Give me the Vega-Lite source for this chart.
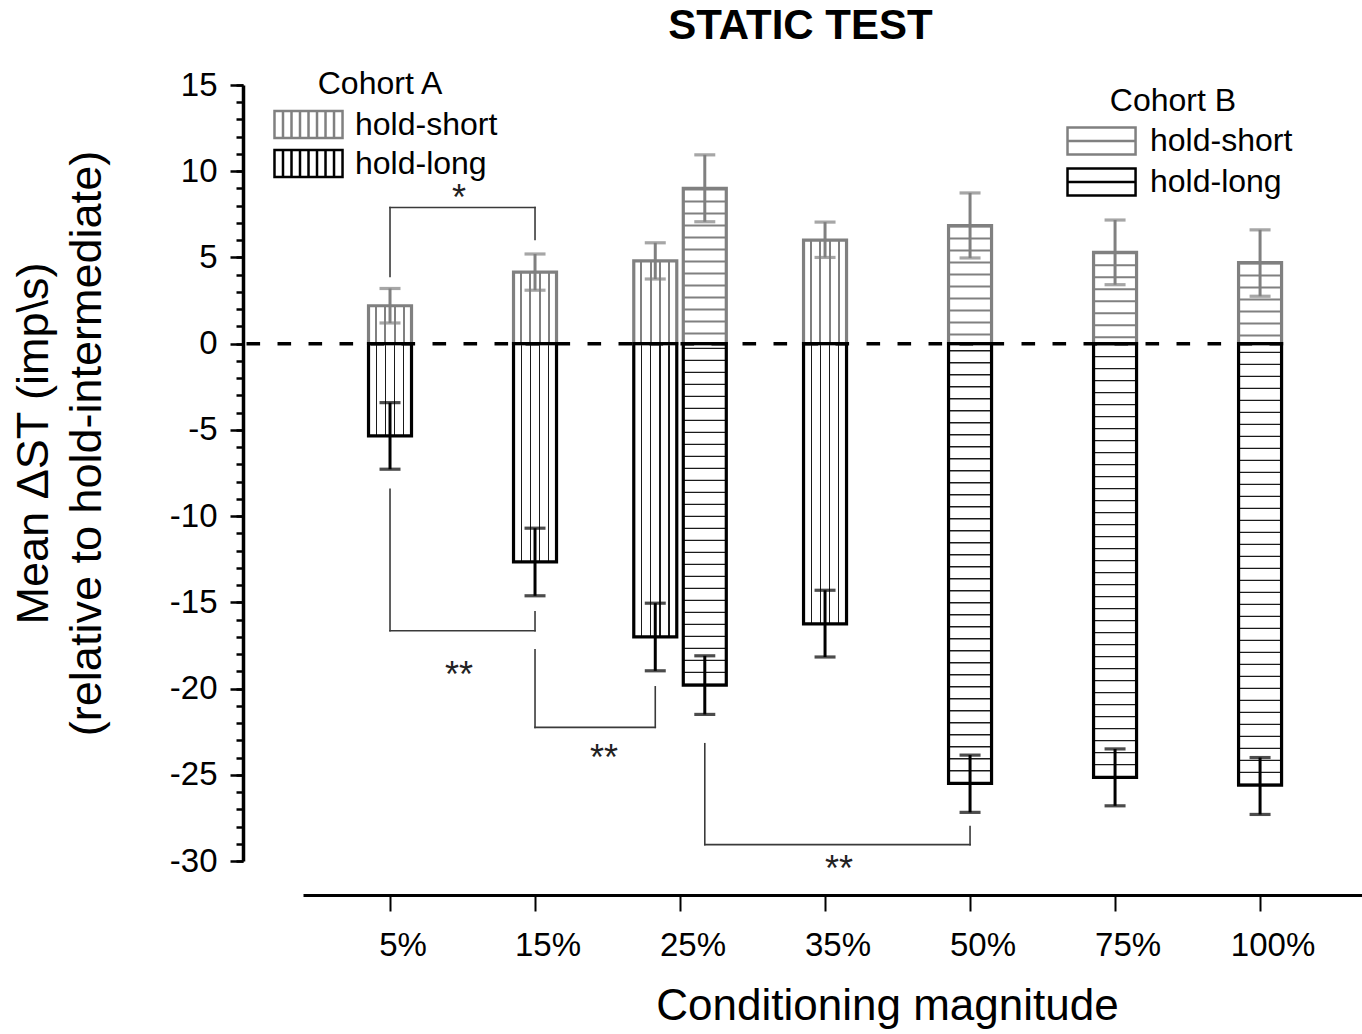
{
  "$schema": "https://vega.github.io/schema/vega-lite/v6.json",
  "width": 1059,
  "height": 776,
  "autosize": {"type": "none"},
  "padding": {"left": 303, "top": 85, "right": 0, "bottom": 173},
  "background": "white",
  "title": {"text": "STATIC TEST", "fontSize": 42, "fontWeight": "bold", "font": "Liberation Sans", "color": "black", "anchor": "middle", "frame": "group", "dx": -32, "offset": -12, "baseline": "alphabetic"},
  "config": {
    "font": "Liberation Sans",
    "view": {"stroke": null},
    "axis": {"grid": false, "domainColor": "black", "tickColor": "black", "labelColor": "black", "titleColor": "black", "labelFont": "Liberation Sans", "titleFont": "Liberation Sans", "titleFontWeight": "normal"},
    "legend": {"labelFont": "Liberation Sans", "titleFont": "Liberation Sans", "labelColor": "black", "titleColor": "black", "titleFontWeight": "normal", "labelFontSize": 32, "titleFontSize": 32, "labelLimit": 400, "padding": 0}
  },
  "datasets": {
    "bars": [
      {"magnitude": "5%", "cohort": "A", "hold": "hold-short", "value": 2.2, "lo": 1.2, "hi": 3.2},
      {"magnitude": "15%", "cohort": "A", "hold": "hold-short", "value": 4.15, "lo": 3.1, "hi": 5.2},
      {"magnitude": "25%", "cohort": "A", "hold": "hold-short", "value": 4.8, "lo": 3.75, "hi": 5.85},
      {"magnitude": "35%", "cohort": "A", "hold": "hold-short", "value": 6.0, "lo": 5.0, "hi": 7.05},
      {"magnitude": "5%", "cohort": "A", "hold": "hold-long", "value": -5.35, "lo": -7.28, "hi": -3.42},
      {"magnitude": "15%", "cohort": "A", "hold": "hold-long", "value": -12.65, "lo": -14.62, "hi": -10.7},
      {"magnitude": "25%", "cohort": "A", "hold": "hold-long", "value": -17.0, "lo": -18.97, "hi": -15.05},
      {"magnitude": "35%", "cohort": "A", "hold": "hold-long", "value": -16.25, "lo": -18.17, "hi": -14.3},
      {"magnitude": "25%", "cohort": "B", "hold": "hold-short", "value": 9.0, "lo": 7.07, "hi": 10.95},
      {"magnitude": "50%", "cohort": "B", "hold": "hold-short", "value": 6.85, "lo": 4.97, "hi": 8.74},
      {"magnitude": "75%", "cohort": "B", "hold": "hold-short", "value": 5.3, "lo": 3.42, "hi": 7.17},
      {"magnitude": "100%", "cohort": "B", "hold": "hold-short", "value": 4.7, "lo": 2.75, "hi": 6.6},
      {"magnitude": "25%", "cohort": "B", "hold": "hold-long", "value": -19.8, "lo": -21.5, "hi": -18.1},
      {"magnitude": "50%", "cohort": "B", "hold": "hold-long", "value": -25.5, "lo": -27.18, "hi": -23.86},
      {"magnitude": "75%", "cohort": "B", "hold": "hold-long", "value": -25.15, "lo": -26.8, "hi": -23.5},
      {"magnitude": "100%", "cohort": "B", "hold": "hold-long", "value": -25.6, "lo": -27.3, "hi": -24.0}
    ],
    "vseg": [
      {"magnitude": "5%", "cohort": "A", "y1": 7.9, "y2": 3.9},
      {"magnitude": "15%", "cohort": "A", "y1": 7.9, "y2": 6.05},
      {"magnitude": "5%", "cohort": "A", "y1": -8.45, "y2": -16.65},
      {"magnitude": "15%", "cohort": "A", "y1": -16.65, "y2": -15.55},
      {"magnitude": "15%", "cohort": "A", "y1": -17.75, "y2": -22.25},
      {"magnitude": "25%", "cohort": "A", "y1": -22.25, "y2": -19.9},
      {"magnitude": "25%", "cohort": "B", "y1": -23.2, "y2": -29.05},
      {"magnitude": "50%", "cohort": "B", "y1": -29.05, "y2": -28.0}
    ],
    "hseg": [
      {"from": "5%", "to": "15%", "y": 7.9},
      {"from": "5%", "to": "15%", "y": -16.65},
      {"from": "15%", "to": "25%", "y": -22.25},
      {"from": "25%", "to": "50%", "y": -29.05}
    ],
    "stars": [
      {"magnitude": "5%", "y": 7.75, "label": "*"},
      {"magnitude": "5%", "y": -19.9, "label": "**"},
      {"magnitude": "15%", "y": -24.7, "label": "**"},
      {"magnitude": "35%", "y": -31.15, "label": "**"}
    ]
  },
  "encoding": {
    "x": {
      "field": "magnitude", "type": "nominal",
      "scale": {"type": "band", "domain": ["5%", "15%", "25%", "35%", "50%", "75%", "100%"], "paddingInner": 0.317, "paddingOuter": 0.31, "align": 0.417},
      "axis": {"offset": 34, "domainWidth": 3, "tickSize": 16, "tickWidth": 2, "labelFontSize": 33, "labelPadding": 18, "labelOffset": 13, "labelAngle": 0, "title": "Conditioning magnitude", "titleFontSize": 44, "titlePadding": 22, "titleX": 584, "titleAnchor": "middle", "grid": false}
    }
  },
  "resolve": {"axis": {"y": "independent"}},
  "layer": [
    {
      "resolve": {"scale": {"stroke": "independent"}},
      "layer": [
        {
          "data": {"name": "bars"},
          "transform": [{"filter": "datum.cohort == 'A'"}],
          "layer": [
            {
              "transform": [{"filter": "datum.magnitude != '25%'"}],
              "layer": [
                {"mark": {"type": "bar", "width": 43},
                 "encoding": {
                   "y": {"field": "value", "type": "quantitative", "scale": {"domain": [-30, 15], "nice": false, "zero": false},
                         "axis": {"orient": "left", "offset": 60, "values": [-30, -25, -20, -15, -10, -5, 0, 5, 10, 15], "tickSize": 13, "tickWidth": 2.5, "domainWidth": 3.5, "labelFontSize": 33, "labelPadding": 13, "labelExpr": "'' + datum.value", "title": ["Mean ΔST (imp\\s)", "(relative to hold-intermediate)"], "titleFontSize": 45, "titleAngle": -90, "titleAlign": "center", "titleBaseline": "alphabetic", "titleX": -196, "titleY": 358, "titleLineHeight": 53, "grid": false}},
                   "fill": {"condition": {"test": "datum.hold == 'hold-short'", "value": {"gradient": "linear", "x1": 0, "y1": 0, "x2": 1, "y2": 0, "stops": [{"offset": 0, "color": "#ffffff"}, {"offset": 0.156, "color": "#ffffff"}, {"offset": 0.156, "color": "#808080"}, {"offset": 0.202, "color": "#808080"}, {"offset": 0.202, "color": "#ffffff"}, {"offset": 0.37, "color": "#ffffff"}, {"offset": 0.37, "color": "#808080"}, {"offset": 0.416, "color": "#808080"}, {"offset": 0.416, "color": "#ffffff"}, {"offset": 0.584, "color": "#ffffff"}, {"offset": 0.584, "color": "#808080"}, {"offset": 0.63, "color": "#808080"}, {"offset": 0.63, "color": "#ffffff"}, {"offset": 0.798, "color": "#ffffff"}, {"offset": 0.798, "color": "#808080"}, {"offset": 0.844, "color": "#808080"}, {"offset": 0.844, "color": "#ffffff"}, {"offset": 1, "color": "#ffffff"}]}},
                            "value": {"gradient": "linear", "x1": 0, "y1": 0, "x2": 1, "y2": 0, "stops": [{"offset": 0, "color": "#ffffff"}, {"offset": 0.164, "color": "#ffffff"}, {"offset": 0.164, "color": "#1a1a1a"}, {"offset": 0.194, "color": "#1a1a1a"}, {"offset": 0.194, "color": "#ffffff"}, {"offset": 0.378, "color": "#ffffff"}, {"offset": 0.378, "color": "#1a1a1a"}, {"offset": 0.408, "color": "#1a1a1a"}, {"offset": 0.408, "color": "#ffffff"}, {"offset": 0.592, "color": "#ffffff"}, {"offset": 0.592, "color": "#1a1a1a"}, {"offset": 0.622, "color": "#1a1a1a"}, {"offset": 0.622, "color": "#ffffff"}, {"offset": 0.806, "color": "#ffffff"}, {"offset": 0.806, "color": "#1a1a1a"}, {"offset": 0.836, "color": "#1a1a1a"}, {"offset": 0.836, "color": "#ffffff"}, {"offset": 1, "color": "#ffffff"}]}}
                 }},
                {"mark": {"type": "bar", "width": 43, "fill": "transparent", "strokeWidth": 3.2},
                 "encoding": {
                   "y": {"field": "value", "type": "quantitative"},
                   "stroke": {"field": "hold", "type": "nominal", "scale": {"domain": ["hold-short", "hold-long"], "range": ["#808080", "#000000"]},
                              "legend": {"title": "Cohort A", "orient": "none", "legendX": -41, "legendY": -16, "symbolType": "M-0.26,-1H4.78V1H-0.26ZM0.37,-1V1M1,-1V1M1.63,-1V1M2.26,-1V1M2.89,-1V1M3.52,-1V1M4.15,-1V1", "symbolSize": 729, "symbolStrokeWidth": 2.5, "symbolFillColor": "transparent", "labelOffset": 61, "rowPadding": 1, "titlePadding": 7.5, "titleAnchor": "middle"}}
                 }},
                {"mark": {"type": "rule", "strokeWidth": 3},
                 "encoding": {"y": {"field": "lo", "type": "quantitative"}, "y2": {"field": "hi"}, "stroke": {"condition": {"test": "datum.hold == 'hold-short'", "value": "#808080"}, "value": "#000000"}}},
                {"mark": {"type": "tick", "size": 21, "thickness": 3.2},
                 "encoding": {"y": {"field": "lo", "type": "quantitative"}, "color": {"condition": {"test": "datum.hold == 'hold-short'", "value": "#808080"}, "value": "#000000"}}},
                {"mark": {"type": "tick", "size": 21, "thickness": 3.2},
                 "encoding": {"y": {"field": "hi", "type": "quantitative"}, "color": {"condition": {"test": "datum.hold == 'hold-short'", "value": "#808080"}, "value": "#000000"}}}
              ]
            },
            {
              "transform": [{"filter": "datum.magnitude == '25%'"}],
              "encoding": {"xOffset": {"field": "cohort", "type": "nominal", "scale": {"domain": ["A", "B"], "paddingInner": 0, "paddingOuter": 0}}},
              "layer": [
                {"mark": {"type": "bar", "width": 43},
                 "encoding": {
                   "y": {"field": "value", "type": "quantitative"},
                   "fill": {"condition": {"test": "datum.hold == 'hold-short'", "value": {"gradient": "linear", "x1": 0, "y1": 0, "x2": 1, "y2": 0, "stops": [{"offset": 0, "color": "#ffffff"}, {"offset": 0.156, "color": "#ffffff"}, {"offset": 0.156, "color": "#808080"}, {"offset": 0.202, "color": "#808080"}, {"offset": 0.202, "color": "#ffffff"}, {"offset": 0.37, "color": "#ffffff"}, {"offset": 0.37, "color": "#808080"}, {"offset": 0.416, "color": "#808080"}, {"offset": 0.416, "color": "#ffffff"}, {"offset": 0.584, "color": "#ffffff"}, {"offset": 0.584, "color": "#808080"}, {"offset": 0.63, "color": "#808080"}, {"offset": 0.63, "color": "#ffffff"}, {"offset": 0.798, "color": "#ffffff"}, {"offset": 0.798, "color": "#808080"}, {"offset": 0.844, "color": "#808080"}, {"offset": 0.844, "color": "#ffffff"}, {"offset": 1, "color": "#ffffff"}]}},
                            "value": {"gradient": "linear", "x1": 0, "y1": 0, "x2": 1, "y2": 0, "stops": [{"offset": 0, "color": "#ffffff"}, {"offset": 0.164, "color": "#ffffff"}, {"offset": 0.164, "color": "#1a1a1a"}, {"offset": 0.194, "color": "#1a1a1a"}, {"offset": 0.194, "color": "#ffffff"}, {"offset": 0.378, "color": "#ffffff"}, {"offset": 0.378, "color": "#1a1a1a"}, {"offset": 0.408, "color": "#1a1a1a"}, {"offset": 0.408, "color": "#ffffff"}, {"offset": 0.592, "color": "#ffffff"}, {"offset": 0.592, "color": "#1a1a1a"}, {"offset": 0.622, "color": "#1a1a1a"}, {"offset": 0.622, "color": "#ffffff"}, {"offset": 0.806, "color": "#ffffff"}, {"offset": 0.806, "color": "#1a1a1a"}, {"offset": 0.836, "color": "#1a1a1a"}, {"offset": 0.836, "color": "#ffffff"}, {"offset": 1, "color": "#ffffff"}]}}
                 }},
                {"mark": {"type": "bar", "width": 43, "fill": "transparent", "strokeWidth": 3.2},
                 "encoding": {
                   "y": {"field": "value", "type": "quantitative"},
                   "stroke": {"field": "hold", "type": "nominal"}
                 }},
                {"mark": {"type": "rule", "strokeWidth": 3},
                 "encoding": {"y": {"field": "lo", "type": "quantitative"}, "y2": {"field": "hi"}, "stroke": {"condition": {"test": "datum.hold == 'hold-short'", "value": "#808080"}, "value": "#000000"}}},
                {"mark": {"type": "tick", "size": 21, "thickness": 3.2},
                 "encoding": {"y": {"field": "lo", "type": "quantitative"}, "color": {"condition": {"test": "datum.hold == 'hold-short'", "value": "#808080"}, "value": "#000000"}}},
                {"mark": {"type": "tick", "size": 21, "thickness": 3.2},
                 "encoding": {"y": {"field": "hi", "type": "quantitative"}, "color": {"condition": {"test": "datum.hold == 'hold-short'", "value": "#808080"}, "value": "#000000"}}}
              ]
            }
          ]
        },
        {
          "data": {"name": "bars"},
          "transform": [{"filter": "datum.cohort == 'B'"}],
          "layer": [
            {
              "transform": [{"filter": "datum.magnitude != '25%'"}],
              "layer": [
                {"mark": {"type": "rule", "strokeWidth": 43},
                 "encoding": {"y": {"field": "value", "type": "quantitative"}, "y2": {"datum": 0},
                   "stroke": {"condition": {"test": "datum.hold == 'hold-short'", "value": "#808080"}, "value": "#1a1a1a"},
                   "strokeDash": {"condition": {"test": "datum.hold == 'hold-short'", "value": [2, 10]}, "value": [1.3, 10.7]}}},
                {"mark": {"type": "bar", "width": 43, "fill": "transparent", "strokeWidth": 3.2},
                 "encoding": {
                   "y": {"field": "value", "type": "quantitative"},
                   "stroke": {"field": "hold", "type": "nominal", "scale": {"domain": ["hold-short", "hold-long"], "range": ["#808080", "#000000"]},
                              "legend": {"title": "Cohort B", "orient": "none", "legendX": 750, "legendY": 1, "symbolType": "M-0.11,-1H4.93V1H-0.11ZM-0.11,0H4.93", "symbolSize": 729, "symbolStrokeWidth": 2.5, "symbolFillColor": "transparent", "labelOffset": 65, "rowPadding": 3, "titlePadding": 7, "titleAnchor": "middle"}}
                 }},
                {"mark": {"type": "rule", "strokeWidth": 3},
                 "encoding": {"y": {"field": "lo", "type": "quantitative"}, "y2": {"field": "hi"}, "stroke": {"condition": {"test": "datum.hold == 'hold-short'", "value": "#808080"}, "value": "#000000"}}},
                {"mark": {"type": "tick", "size": 21, "thickness": 3.2},
                 "encoding": {"y": {"field": "lo", "type": "quantitative"}, "color": {"condition": {"test": "datum.hold == 'hold-short'", "value": "#808080"}, "value": "#000000"}}},
                {"mark": {"type": "tick", "size": 21, "thickness": 3.2},
                 "encoding": {"y": {"field": "hi", "type": "quantitative"}, "color": {"condition": {"test": "datum.hold == 'hold-short'", "value": "#808080"}, "value": "#000000"}}}
              ]
            },
            {
              "transform": [{"filter": "datum.magnitude == '25%'"}],
              "encoding": {"xOffset": {"field": "cohort", "type": "nominal", "scale": {"domain": ["A", "B"], "paddingInner": 0, "paddingOuter": 0}}},
              "layer": [
                {"mark": {"type": "rule", "strokeWidth": 43},
                 "encoding": {"y": {"field": "value", "type": "quantitative"}, "y2": {"datum": 0},
                   "stroke": {"condition": {"test": "datum.hold == 'hold-short'", "value": "#808080"}, "value": "#1a1a1a"},
                   "strokeDash": {"condition": {"test": "datum.hold == 'hold-short'", "value": [2, 10]}, "value": [1.3, 10.7]}}},
                {"mark": {"type": "bar", "width": 43, "fill": "transparent", "strokeWidth": 3.2},
                 "encoding": {
                   "y": {"field": "value", "type": "quantitative"},
                   "stroke": {"field": "hold", "type": "nominal"}
                 }},
                {"mark": {"type": "rule", "strokeWidth": 3},
                 "encoding": {"y": {"field": "lo", "type": "quantitative"}, "y2": {"field": "hi"}, "stroke": {"condition": {"test": "datum.hold == 'hold-short'", "value": "#808080"}, "value": "#000000"}}},
                {"mark": {"type": "tick", "size": 21, "thickness": 3.2},
                 "encoding": {"y": {"field": "lo", "type": "quantitative"}, "color": {"condition": {"test": "datum.hold == 'hold-short'", "value": "#808080"}, "value": "#000000"}}},
                {"mark": {"type": "tick", "size": 21, "thickness": 3.2},
                 "encoding": {"y": {"field": "hi", "type": "quantitative"}, "color": {"condition": {"test": "datum.hold == 'hold-short'", "value": "#808080"}, "value": "#000000"}}}
              ]
            }
          ]
        },
        {"data": {"name": "vseg"}, "transform": [{"filter": "datum.magnitude != '25%'"}],
         "mark": {"type": "rule", "strokeWidth": 1.6, "color": "#3a3a3a", "strokeCap": "square"},
         "encoding": {"y": {"field": "y1", "type": "quantitative"}, "y2": {"field": "y2"}}},
        {"data": {"name": "vseg"}, "transform": [{"filter": "datum.magnitude == '25%'"}],
         "mark": {"type": "rule", "strokeWidth": 1.6, "color": "#3a3a3a", "strokeCap": "square"},
         "encoding": {"xOffset": {"field": "cohort", "type": "nominal"}, "y": {"field": "y1", "type": "quantitative"}, "y2": {"field": "y2"}}},
        {"data": {"name": "hseg"}, "transform": [{"filter": "datum.from != '25%' && datum.to != '25%'"}],
         "mark": {"type": "rule", "strokeWidth": 1.6, "color": "#3a3a3a", "strokeCap": "square"},
         "encoding": {"x": {"field": "from", "type": "nominal"}, "x2": {"field": "to"}, "y": {"field": "y", "type": "quantitative"}}},
        {"data": {"name": "hseg"}, "transform": [{"filter": "datum.to == '25%'"}],
         "mark": {"type": "rule", "strokeWidth": 1.6, "color": "#3a3a3a", "strokeCap": "square", "x2Offset": -24.76},
         "encoding": {"x": {"field": "from", "type": "nominal"}, "x2": {"field": "to"}, "y": {"field": "y", "type": "quantitative"}}},
        {"data": {"name": "hseg"}, "transform": [{"filter": "datum.from == '25%'"}],
         "mark": {"type": "rule", "strokeWidth": 1.6, "color": "#3a3a3a", "strokeCap": "square", "xOffset": 24.76},
         "encoding": {"x": {"field": "from", "type": "nominal"}, "x2": {"field": "to"}, "y": {"field": "y", "type": "quantitative"}}},
        {"data": {"name": "stars"}, "transform": [{"filter": "datum.magnitude != '35%'"}],
         "mark": {"type": "text", "fontSize": 36, "dx": 69, "baseline": "alphabetic", "color": "#222222"},
         "encoding": {"y": {"field": "y", "type": "quantitative"}, "text": {"field": "label"}}},
        {"data": {"name": "stars"}, "transform": [{"filter": "datum.magnitude == '35%'"}],
         "mark": {"type": "text", "fontSize": 36, "dx": 14, "baseline": "alphabetic", "color": "#222222"},
         "encoding": {"y": {"field": "y", "type": "quantitative"}, "text": {"field": "label"}}}
      ]
    },
    {
      "data": {"values": [{"from": "5%", "to": "100%", "zero": 0}]},
      "mark": {"type": "rule", "strokeDash": [13.6, 17.4], "strokeWidth": 3.5, "color": "black", "xOffset": -143.5, "x2Offset": 24},
      "encoding": {
        "x": {"field": "from", "type": "nominal"},
        "x2": {"field": "to"},
        "y": {"field": "zero", "type": "quantitative",
              "axis": {"orient": "left", "offset": 60, "tickCount": 45, "tickSize": 7, "tickWidth": 2.5, "labels": false, "domain": false, "title": null, "grid": false}}
      }
    }
  ]
}
